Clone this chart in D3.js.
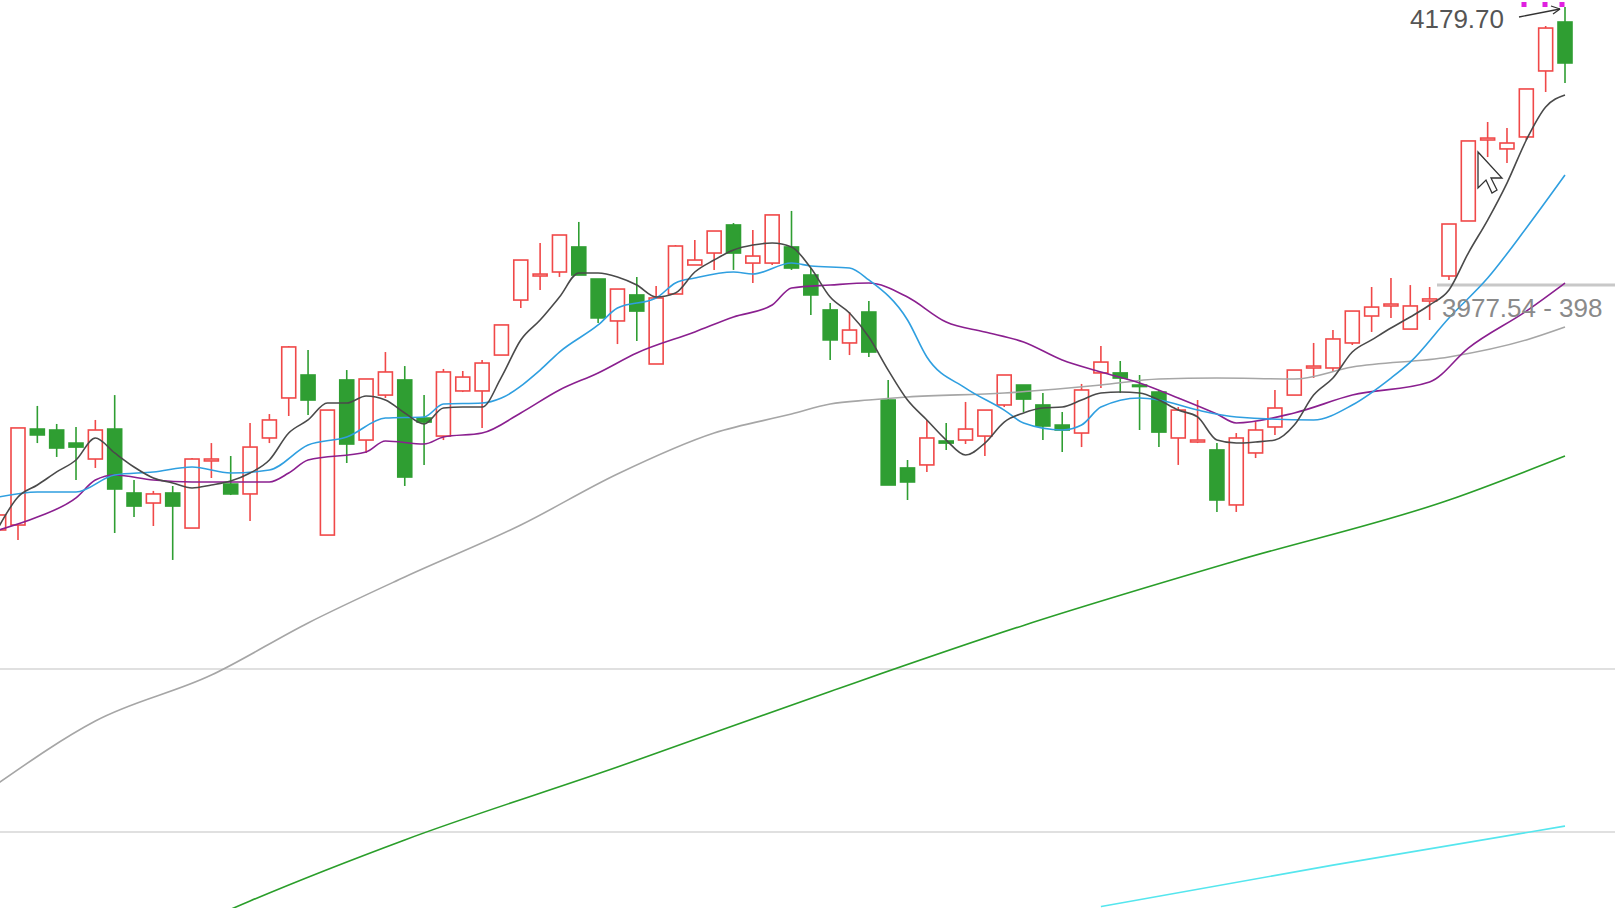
<!DOCTYPE html>
<html>
<head>
<meta charset="utf-8">
<script src="https://cdn.jsdelivr.net/npm/d3@7"></script>
<style>
  body { margin: 0; background: #fff; overflow: hidden; }
  svg { display: block; font-family: "Liberation Sans", Arial, sans-serif; }
</style>
</head>
<body>
<svg id="chart" width="1615" height="908"></svg>
<script>
// candles, index 0 is the half-hidden one at the left edge
const opens = [3799.4,3803.0,3872.8,3872.1,3862.6,3851.0,3872.8,3826.3,3819.0,3826.3,
  3800.8,3849.6,3832.8,3825.6,3866.3,3895.4,3912.1,3795.7,3908.5,3864.8,
  3897.5,3908.5,3880.8,3867.7,3900.5,3900.5,3926.6,3966.6,3984.1,3987.0,
  4005.2,3981.9,3951.4,3970.3,3920.1,3971.0,3992.1,4000.8,4021.2,3993.5,
  3993.5,4005.2,3984.8,3959.4,3935.4,3957.9,3893.9,3844.5,3846.7,3864.1,
  3864.8,3867.7,3890.3,3904.8,3890.3,3875.7,3869.9,3913.6,3913.6,3904.8,
  3899.7,3866.3,3863.4,3857.6,3817.6,3855.4,3874.3,3897.5,3917.2,3917.2,
  3935.4,3955.0,3962.3,3945.5,3965.9,3984.1,4024.1,4083.0,4076.5,4085.2,4133.2,4168.8];
const closes = [3810.3,3873.6,3868.5,3859.0,3859.7,3872.1,3829.2,3816.8,3825.6,3816.8,
  3851.0,3851.0,3825.6,3859.7,3879.4,3932.5,3893.9,3886.6,3861.9,3909.2,
  3914.3,3837.9,3877.9,3914.3,3910.6,3920.8,3948.5,3995.7,3985.5,4013.9,
  3984.8,3953.6,3974.6,3958.6,3968.1,4005.9,3995.7,4016.8,4000.8,3998.6,
  4028.5,3989.9,3970.3,3937.6,3944.8,3928.8,3832.1,3834.3,3866.3,3862.6,
  3872.8,3886.6,3912.1,3894.6,3875.0,3872.1,3901.2,3921.5,3909.9,3904.1,
  3870.6,3886.6,3864.8,3821.2,3866.3,3872.1,3888.1,3915.7,3918.6,3938.3,
  3958.6,3961.5,3963.7,3962.3,3967.4,4021.9,4082.3,4084.4,4080.8,4120.1,4164.4,4139.0];
const highs = [3813.9,3873.6,3889.6,3876.5,3874.3,3879.4,3897.5,3835.7,3827.8,3831.4,
  3851.7,3862.6,3853.2,3877.2,3883.7,3933.2,3930.3,3886.6,3915.7,3909.2,
  3928.8,3918.6,3897.5,3916.5,3915.0,3923.0,3948.5,3995.7,4008.1,4013.9,
  4023.4,3981.9,3974.6,3983.4,3976.8,4006.6,4010.3,4016.8,4022.6,4017.5,
  4028.5,4031.4,3989.9,3964.5,3957.9,3965.9,3908.5,3850.3,3879.4,3877.2,
  3892.5,3886.6,3912.1,3904.8,3899.0,3885.2,3905.6,3933.2,3922.3,3912.1,
  3901.2,3888.8,3893.9,3862.6,3869.9,3877.9,3901.2,3915.7,3935.4,3944.8,
  3958.6,3976.1,3982.6,3977.5,3976.1,4021.9,4082.3,4096.1,4091.7,4120.1,4165.9,4179.7];
const lows = [3795.7,3792.1,3862.6,3852.5,3835.7,3844.5,3797.2,3808.8,3802.3,3777.6,
  3800.8,3837.2,3824.8,3805.9,3862.6,3882.3,3883.0,3795.7,3848.1,3855.4,
  3895.4,3831.4,3846.7,3864.8,3899.7,3873.6,3926.6,3960.8,3973.9,3983.4,
  3984.8,3949.9,3934.6,3936.8,3920.1,3971.0,3992.1,3988.5,3988.5,3979.0,
  3992.1,3988.5,3955.7,3923.0,3926.6,3925.2,3832.1,3821.2,3841.6,3857.6,
  3861.9,3853.2,3888.8,3885.2,3864.8,3856.1,3859.7,3902.6,3899.0,3872.1,
  3859.7,3846.7,3862.6,3812.5,3812.5,3851.7,3868.5,3897.5,3909.9,3914.3,
  3933.9,3943.4,3953.6,3945.5,3952.1,3981.2,4024.1,4070.6,4066.3,4083.0,4117.9,4124.4];

// moving averages as [candle index, value]
const ma5 = [[0,3801.6],[1,3823.4],[2,3832.1],[3,3841.6],[4,3850.3],[5,3866.3],[6,3855.4],[7,3845.2],[8,3837.2],[9,3833.6],
  [10,3829.9],[11,3832.1],[12,3835.0],[13,3840.8],[14,3850.3],[15,3869.9],[16,3879.4],[17,3891.7],[18,3891.7],[19,3896.8],
  [20,3893.9],[21,3884.5],[22,3876.5],[23,3888.1],[24,3888.8],[25,3888.8],[26,3910.6],[27,3937.6],[28,3952.1],[29,3968.8],
  [30,3986.3],[31,3986.3],[32,3983.4],[33,3977.5],[34,3968.8],[35,3971.7],[36,3987.0],[37,3995.7],[38,4003.0],[39,4006.6],
  [40,4008.1],[41,4005.2],[42,3989.9],[43,3968.8],[44,3957.2],[45,3939.7],[46,3915.7],[47,3893.9],[48,3879.4],[49,3864.8],
  [50,3853.9],[51,3862.6],[52,3877.9],[53,3884.5],[54,3888.1],[55,3888.8],[56,3893.9],[57,3899.0],[58,3899.7],[59,3899.0],
  [60,3893.9],[61,3886.6],[62,3881.6],[63,3864.8],[64,3862.6],[65,3863.4],[66,3864.8],[67,3875.7],[68,3897.5],[69,3909.9],
  [70,3928.8],[71,3937.6],[72,3946.3],[73,3954.3],[74,3963.0],[75,3973.9],[76,4000.8],[77,4024.8],[78,4051.7],[79,4083.0],
  [80,4107.0],[81,4115.7]];
const ma10 = [[0,3823.4],[2,3827.0],[4,3827.0],[6,3839.4],[8,3841.6],[10,3845.2],[12,3840.8],[14,3843.0],[16,3861.2],[18,3867.0],
  [20,3880.8],[22,3881.6],[23,3891.0],[25,3891.7],[26,3895.4],[28,3915.7],[29,3928.8],[31,3948.5],[32,3960.8],[34,3968.1],
  [35,3979.0],[36,3982.6],[38,3987.0],[39,3985.5],[41,3993.5],[42,3991.4],[44,3989.9],[45,3981.2],[47,3952.1],[48,3925.2],
  [50,3902.6],[52,3886.6],[53,3877.2],[55,3872.1],[56,3875.7],[57,3888.8],[59,3895.4],[60,3893.9],[62,3886.6],[64,3881.6],
  [68,3879.4],[70,3890.3],[72,3909.9],[73,3921.5],[75,3953.6],[77,3982.6],[79,4019.0],[81,4057.5]];
const ma20 = [[0,3799.4],[2,3808.8],[4,3822.7],[5,3835.7],[6,3839.4],[8,3835.7],[10,3834.3],[12,3834.3],[14,3834.3],[15,3840.8],
  [16,3850.3],[19,3856.1],[20,3864.1],[22,3861.9],[23,3867.0],[25,3869.9],[27,3884.5],[29,3901.2],[31,3913.6],[33,3928.1],
  [36,3943.4],[38,3954.3],[40,3963.0],[41,3975.4],[43,3977.5],[45,3979.0],[47,3968.8],[49,3950.6],[51,3943.4],[53,3936.1],
  [55,3923.0],[57,3914.3],[59,3906.3],[61,3895.4],[63,3883.7],[64,3877.2],[67,3884.5],[70,3897.5],[74,3907.0],[76,3931.7],
  [79,3958.6],[81,3979.0]];
const ma60 = [[0,3615.4],[5,3660.5],[11,3693.9],[16,3731.8],[21,3765.2],[27,3803.0],[32,3840.1],[37,3869.9],[41,3883.7],[43,3891.0],
  [45,3893.9],[47,3896.1],[52,3899.0],[57,3904.8],[60,3909.2],[63,3909.9],[67,3909.2],[70,3917.9],[75,3925.2],[79,3937.6],[81,3947.0]];
const ma120 = [[9,3505.0],[13,3529.6],[21,3574.0],[32,3627.0],[43,3682.0],[53,3730.0],[64,3777.0],[75,3821.2],[81,3853.2]];
const ma250 = [[57,3525.5],[69,3555.7],[81,3584.1]];

const gridLevels = [3698.3, 3579.8];
const rangeLow = 3977.54;
const highLabel = '4179.70';
const rangeLabel = '3977.54 - 398';

const svg = d3.select('#chart');
const W = 1615, H = 908;

const x = d3.scaleLinear().domain([1, 81]).range([18, 1565]);
const y = d3.scaleLinear().domain([3524.5, 4184.8]).range([H, 0]);

// grid lines
svg.selectAll('.grid').data(gridLevels).enter().append('line')
  .attr('x1', 0).attr('x2', W)
  .attr('y1', d => y(d)).attr('y2', d => y(d))
  .attr('stroke', '#d6d6d6').attr('stroke-width', 1.5);

// range marker line
svg.append('line')
  .attr('x1', 1437).attr('x2', W)
  .attr('y1', y(rangeLow)).attr('y2', y(rangeLow))
  .attr('stroke', '#c8c8c8').attr('stroke-width', 3);

const line = d3.line().x(d => x(d[0])).y(d => y(d[1])).curve(d3.curveMonotoneX);
const maLines = [
  { data: ma250, color: '#55e6ee' },
  { data: ma120, color: '#2a9e2a' },
  { data: ma60, color: '#a6a6a6' },
  { data: ma20, color: '#8a1f8f' },
  { data: ma10, color: '#2f9fe0' },
  { data: ma5, color: '#4a4a4a' },
];

// candles
const candles = opens.map((o, i) => ({ i, o, c: closes[i], h: highs[i], l: lows[i] }));
const bw = 14;
const up = '#f04848', down = '#2f9e32';
const g = svg.append('g');
g.selectAll('.wick').data(candles).enter().append('line')
  .attr('x1', d => x(d.i)).attr('x2', d => x(d.i))
  .attr('y1', d => y(d.h)).attr('y2', d => y(d.l))
  .attr('stroke', d => d.c >= d.o ? up : down).attr('stroke-width', 1.6);
g.selectAll('.body').data(candles).enter().append('rect')
  .attr('x', d => x(d.i) - bw / 2)
  .attr('width', bw)
  .attr('y', d => y(Math.max(d.o, d.c)))
  .attr('height', d => Math.max(1.5, Math.abs(y(d.o) - y(d.c))))
  .attr('fill', d => d.c >= d.o ? '#fff' : down)
  .attr('stroke', d => d.c >= d.o ? up : down)
  .attr('stroke-width', 1.6);

svg.selectAll('.ma').data(maLines).enter().append('path')
  .attr('d', d => line(d.data))
  .attr('fill', 'none')
  .attr('stroke', d => d.color)
  .attr('stroke-width', 1.6);

// labels
svg.append('text').attr('x', 1410).attr('y', 28)
  .attr('font-size', 26).attr('fill', '#555').text(highLabel);
svg.append('line').attr('x1', 1519).attr('y1', 17).attr('x2', 1560).attr('y2', 9)
  .attr('stroke', '#333').attr('stroke-width', 1.3);
svg.append('path').attr('d', 'M1560,9 L1551,6 M1560,9 L1553,14')
  .attr('stroke', '#333').attr('stroke-width', 1.3).attr('fill', 'none');
svg.selectAll('.dot').data([1524, 1545, 1562]).enter().append('rect')
  .attr('x', d => d - 2.5).attr('y', 2).attr('width', 5).attr('height', 5)
  .attr('fill', '#e020e0');
svg.append('text').attr('x', 1442).attr('y', 317)
  .attr('font-size', 26).attr('fill', '#8a8a8a').text(rangeLabel);

// mouse pointer
svg.append('path')
  .attr('d', 'M1478,152 L1478,188 L1486,180 L1492,193 L1497,190 L1491,178 L1502,178 Z')
  .attr('fill', '#fff').attr('stroke', '#333').attr('stroke-width', 1.3);
</script>
</body>
</html>
